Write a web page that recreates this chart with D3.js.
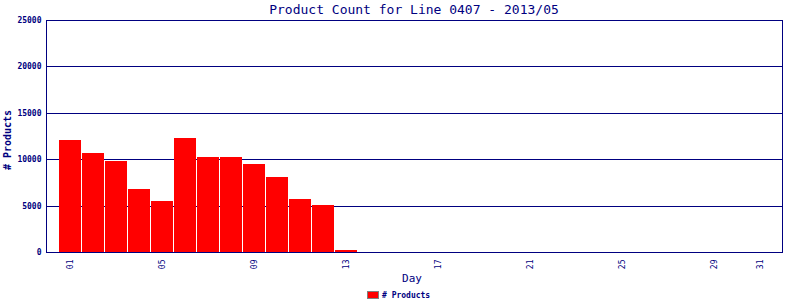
<!DOCTYPE html>
<html>
<head>
<meta charset="utf-8">
<script src="https://cdn.jsdelivr.net/npm/d3@7"></script>
<style>
  body { margin: 0; background: #fff; }
  svg { display: block; }
  text { font-family: "DejaVu Sans Mono", monospace; fill: #000080; }
</style>
</head>
<body>
<script>
// values
const days = d3.range(1, 32).map(d => d3.format("02")(d));
const products = [12050, 10670, 9800, 6790, 5500, 12280, 10240, 10240, 9480, 8080, 5710, 5060, 250,
                  0, 0, 0, 0, 0, 0, 0, 0, 0, 0, 0, 0, 0, 0, 0, 0, 0, 0];
const dayTicks = ["01", "05", "09", "13", "17", "21", "25", "29", "31"];
const yTicks = [0, 5000, 10000, 15000, 20000, 25000];

const width = 800, height = 300;
const plotLeft = 46, plotRight = 782, plotTop = 20, plotBottom = 252;
const navy = "#000080";

const svg = d3.select("body").append("svg")
    .attr("width", width)
    .attr("height", height);

const x = d3.scaleBand()
    .domain(days)
    .range([plotLeft + 1, plotRight + 1])
    .paddingInner(0.045)
    .paddingOuter(0.52);

const y = d3.scaleLinear()
    .domain([0, 25000])
    .range([plotBottom, plotTop]);

// gridlines
svg.append("g")
    .selectAll("line")
    .data(yTicks)
    .enter()
    .append("line")
    .attr("x1", plotLeft)
    .attr("x2", plotRight)
    .attr("y1", d => Math.round(y(d)) + 0.5)
    .attr("y2", d => Math.round(y(d)) + 0.5)
    .attr("stroke", navy)
    .attr("shape-rendering", "crispEdges");

// bars
svg.append("g")
    .selectAll("rect")
    .data(products)
    .enter()
    .append("rect")
    .attr("x", (d, i) => Math.round(x(days[i])))
    .attr("y", d => Math.round(y(d)))
    .attr("width", Math.round(x.bandwidth()))
    .attr("height", d => plotBottom - Math.round(y(d)))
    .attr("fill", "#ff0000")
    .attr("shape-rendering", "crispEdges");

// frame
svg.append("rect")
    .attr("x", plotLeft + 0.5)
    .attr("y", plotTop + 0.5)
    .attr("width", plotRight - plotLeft)
    .attr("height", plotBottom - plotTop)
    .attr("fill", "none")
    .attr("stroke", navy)
    .attr("shape-rendering", "crispEdges");

// y axis
const yAxis = svg.append("g")
    .attr("transform", `translate(${plotLeft + 0.5},0)`)
    .call(d3.axisLeft(y).tickValues(yTicks).tickFormat(d3.format("d")).tickSize(0).tickPadding(5));
yAxis.select(".domain").remove();
yAxis.selectAll("text")
    .style("font-size", "8px")
    .style("font-weight", "bold")
    .attr("fill", navy);

// x axis
const xAxis = svg.append("g")
    .attr("transform", `translate(0,${plotBottom + 0.5})`)
    .call(d3.axisBottom(x).tickValues(dayTicks).tickSize(0));
xAxis.select(".domain").remove();
xAxis.selectAll("text")
    .attr("transform", "rotate(-90)")
    .attr("x", -7)
    .attr("y", 0)
    .attr("dy", "0.32em")
    .style("text-anchor", "end")
    .style("font-size", "8px")
    .attr("fill", navy);

// title
svg.append("text")
    .attr("x", (plotLeft + plotRight) / 2)
    .attr("y", 14)
    .attr("text-anchor", "middle")
    .style("font-size", "13px")
    .text("Product Count for Line 0407 - 2013/05");

// axis titles
svg.append("text")
    .attr("transform", `translate(11,${(plotTop + plotBottom) / 2 + 4}) rotate(-90)`)
    .attr("text-anchor", "middle")
    .style("font-size", "10px")
    .style("font-weight", "bold")
    .text("# Products");

svg.append("text")
    .attr("x", (plotLeft + plotRight) / 2 - 2)
    .attr("y", 282)
    .attr("text-anchor", "middle")
    .style("font-size", "11px")
    .text("Day");

// legend
svg.append("rect")
    .attr("x", 367.5)
    .attr("y", 291.5)
    .attr("width", 11)
    .attr("height", 7)
    .attr("fill", "#ff0000")
    .attr("stroke", "#808080")
    .attr("shape-rendering", "crispEdges");

svg.append("text")
    .attr("x", 382)
    .attr("y", 298)
    .style("font-size", "8px")
    .style("font-weight", "bold")
    .text("# Products");
</script>
</body>
</html>
